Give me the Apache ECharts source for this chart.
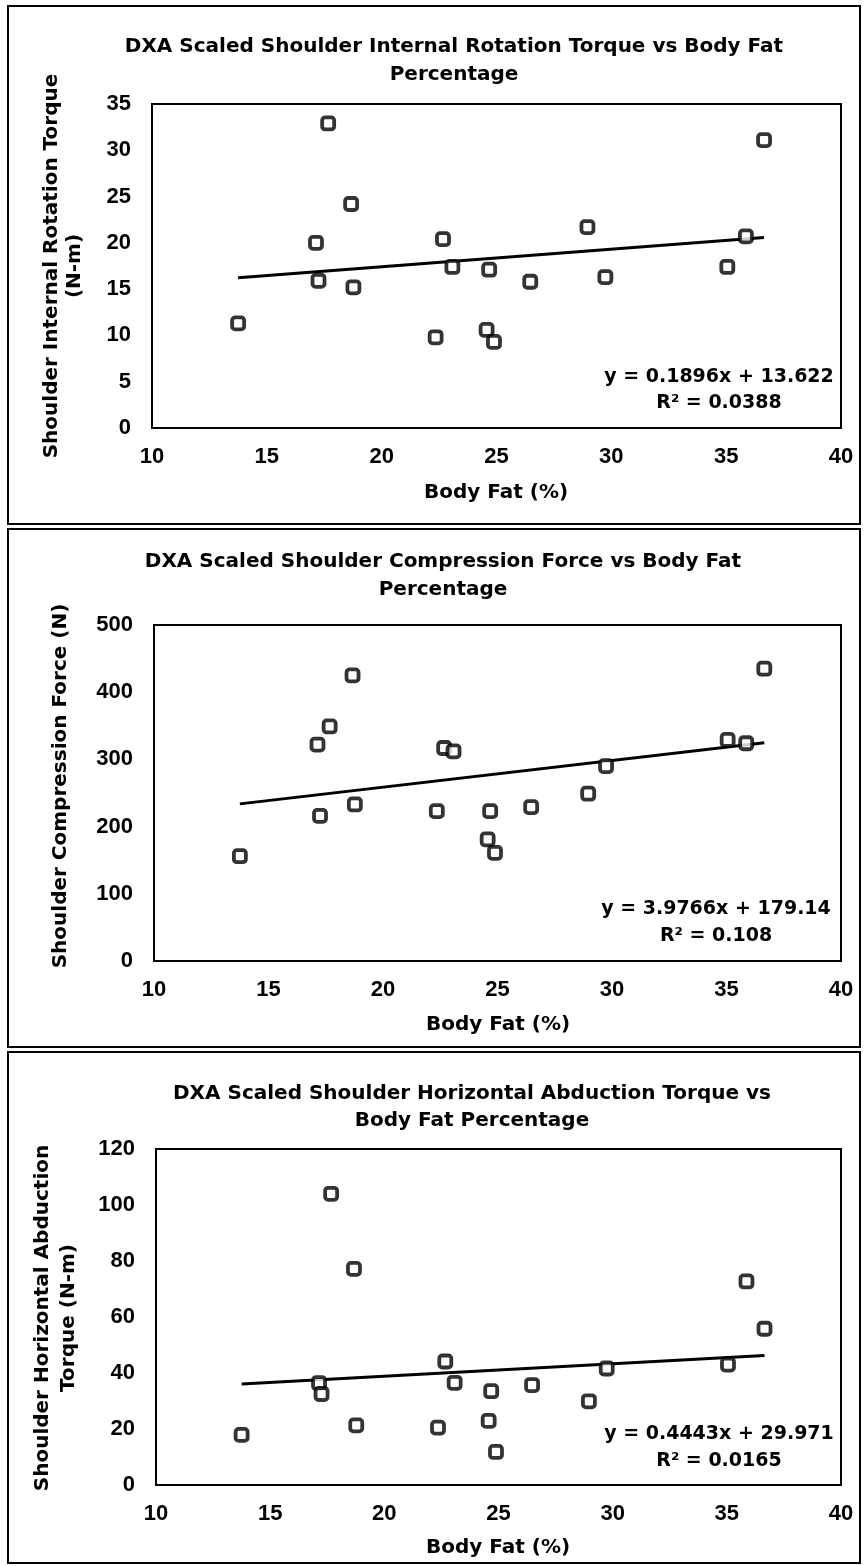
<!DOCTYPE html>
<html>
<head>
<meta charset="utf-8">
<title>DXA Scaled Shoulder Loads vs Body Fat</title>
<script src="https://cdn.jsdelivr.net/npm/echarts@6/dist/echarts.min.js"></script>
<style>
  html, body { margin: 0; padding: 0; background: #fff; }
  #chart { width: 864px; height: 1566px; }
</style>
</head>
<body>
<div id="chart"></div>
<script>
// body fat (%) per subject, shared by the three charts
const bodyFat = [13.75, 17.14, 17.25, 17.67, 18.67, 18.77, 22.35, 22.67, 23.08, 24.57, 24.68, 24.89, 26.47, 28.96, 29.74, 35.05, 35.86, 36.65];

// y values per chart
const irTorque = [11.3, 20.0, 15.9, 32.9, 24.2, 15.2, 9.8, 20.4, 17.4, 10.6, 17.1, 9.3, 15.8, 21.7, 16.3, 17.4, 20.7, 31.1];
const compForce = [156, 322, 216, 349, 425, 233, 223, 317, 312, 181, 223, 161, 229, 249, 290, 329, 324, 435];
const habTorque = [17.9, 36.4, 32.5, 104, 77.2, 21.3, 20.5, 44.1, 36.5, 22.9, 33.5, 11.8, 35.7, 29.9, 41.6, 43.0, 72.7, 55.8];

// linear trendlines (Excel)
const slopes = [0.1896, 3.9766, 0.4443];
const intercepts = [13.622, 179.14, 29.971];
const equations = [
  'y = 0.1896x + 13.622\nR² = 0.0388',
  'y = 3.9766x + 179.14\nR² = 0.108',
  'y = 0.4443x + 29.971\nR² = 0.0165'
];

const titles = [
  'DXA Scaled Shoulder Internal Rotation Torque vs Body Fat\nPercentage',
  'DXA Scaled Shoulder Compression Force vs Body Fat\nPercentage',
  'DXA Scaled Shoulder Horizontal Abduction Torque vs\nBody Fat Percentage'
];
const yNames = [
  'Shoulder Internal Rotation Torque\n(N-m)',
  'Shoulder Compression Force (N)',
  'Shoulder Horizontal Abduction\nTorque (N-m)'
];
const xName = 'Body Fat (%)';

const xMin = 10, xMax = 40, xStep = 5;
const yMax = [35, 500, 120];
const yStep = [5, 100, 20];

const ySets = [irTorque, compForce, habTorque];

// layout of each panel
const grids = [
  { left: 152, top: 104, width: 689, height: 324 },
  { left: 154, top: 625, width: 687, height: 336 },
  { left: 156, top: 1149, width: 685, height: 336 }
];
const frames = [
  { y: 6, h: 518 },
  { y: 529, h: 518 },
  { y: 1052, h: 511 }
];
const titlePos = [[454, 61, 28], [443, 576, 28], [472, 1107, 27]];
const yNamePos = [[63, 266, 23], [61, 786, 23], [56, 1318, 26]];
const xNamePos = [[496, 493], [498, 1025], [498, 1548]];
const eqPos = [[719, 390, 26], [716, 923, 27], [719, 1448, 27]];

const tickFont = { fontFamily: '"Liberation Sans", Arial, sans-serif', fontWeight: 'bold', fontSize: 22, color: '#000' };
const labelFont = 'bold 20px "DejaVu Sans", Verdana, sans-serif';

const chart = echarts.init(document.getElementById('chart'));

const xAxes = [], yAxes = [], series = [], graphics = [];

ySets.forEach((ys, i) => {
  xAxes.push({
    type: 'value', gridIndex: i, min: xMin, max: xMax, interval: xStep,
    axisLine: { show: false }, axisTick: { show: false }, splitLine: { show: false },
    axisLabel: Object.assign({ margin: 18 }, tickFont)
  });
  yAxes.push({
    type: 'value', gridIndex: i, min: 0, max: yMax[i], interval: yStep[i],
    axisLine: { show: false }, axisTick: { show: false }, splitLine: { show: false },
    axisLabel: Object.assign({ margin: 21 }, tickFont)
  });

  const lo = Math.min(...bodyFat), hi = Math.max(...bodyFat);
  series.push({
    type: 'line', xAxisIndex: i, yAxisIndex: i, symbol: 'none', z: 2,
    lineStyle: { color: '#000', width: 3 },
    data: [[lo, slopes[i] * lo + intercepts[i]], [hi, slopes[i] * hi + intercepts[i]]]
  });
  series.push({
    type: 'scatter', xAxisIndex: i, yAxisIndex: i, z: 3,
    symbol: 'roundRect', symbolSize: 12,
    itemStyle: { color: '#fff', borderColor: '#000', borderWidth: 3.8 },
    data: bodyFat.map((x, k) => [x, ys[k]])
  });

  graphics.push({
    type: 'rect', shape: { x: 8, y: frames[i].y, width: 852, height: frames[i].h },
    style: { fill: null, stroke: '#000', lineWidth: 2 }, z: 0
  });
  graphics.push({
    type: 'text', x: titlePos[i][0], y: titlePos[i][1],
    style: { text: titles[i], font: labelFont, fill: '#000', textAlign: 'center', textVerticalAlign: 'middle', lineHeight: titlePos[i][2] }
  });
  graphics.push({
    type: 'text', x: yNamePos[i][0], y: yNamePos[i][1], rotation: Math.PI / 2,
    style: { text: yNames[i], font: labelFont, fill: '#000', textAlign: 'center', textVerticalAlign: 'middle', lineHeight: yNamePos[i][2] }
  });
  graphics.push({
    type: 'text', x: xNamePos[i][0], y: xNamePos[i][1],
    style: { text: xName, font: labelFont, fill: '#000', textAlign: 'center', textVerticalAlign: 'middle' }
  });
  graphics.push({
    type: 'text', x: eqPos[i][0], y: eqPos[i][1], z: 10,
    style: { text: equations[i], font: 'bold 19px "DejaVu Sans", Verdana, sans-serif', fill: '#000', textAlign: 'center', textVerticalAlign: 'middle', lineHeight: eqPos[i][2] }
  });
});

chart.setOption({
  animation: false,
  backgroundColor: '#fff',
  grid: grids.map(g => Object.assign({ show: true, borderColor: '#000', borderWidth: 2, backgroundColor: 'transparent' }, g)),
  xAxis: xAxes,
  yAxis: yAxes,
  series: series,
  graphic: { elements: graphics }
});
</script>
</body>
</html>
